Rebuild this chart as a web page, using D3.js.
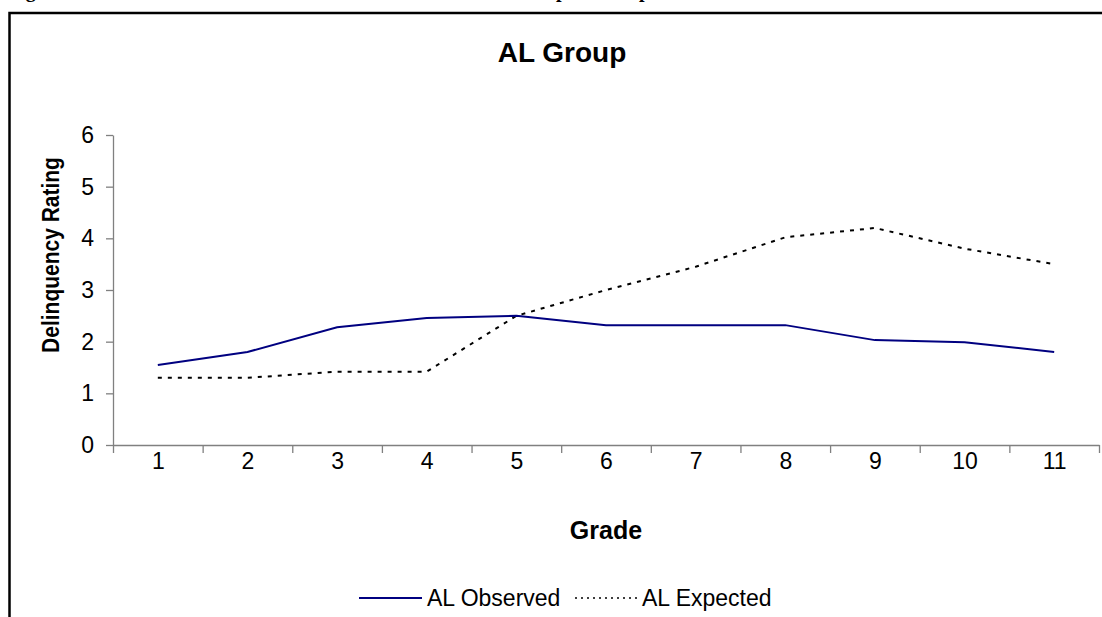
<!DOCTYPE html>
<html>
<head>
<meta charset="utf-8">
<script src="https://cdn.jsdelivr.net/npm/d3@7"></script>
<style>
  body { margin: 0; background: #fff; }
  svg { display: block; font-family: Arial, "Liberation Sans", sans-serif; }
  .axis path, .axis line { stroke: #808080; }
  .axis text { fill: #000; font-size: 23px; font-family: Arial, "Liberation Sans", sans-serif; }
</style>
</head>
<body>
<div id="chart"></div>
<script>
var grades = [1, 2, 3, 4, 5, 6, 7, 8, 9, 10, 11];
var observed = [1.55, 1.8, 2.28, 2.46, 2.5, 2.32, 2.32, 2.32, 2.03, 1.99, 1.8];
var expected = [1.3, 1.3, 1.42, 1.42, 2.5, 3.0, 3.45, 4.02, 4.2, 3.8, 3.5];
var yTicks = [0, 1, 2, 3, 4, 5, 6];
var seriesNames = ["AL Observed", "AL Expected"];

var W = 1102, H = 617;
var plot = {left: 113, right: 1099, top: 135, bottom: 445};

var svg = d3.select("#chart").append("svg")
  .attr("width", W).attr("height", H);

svg.append("rect").attr("width", W).attr("height", H).attr("fill", "#fff");

// page caption, cut off by the top of the picture (only descenders show)
var capY = -3;
var capFont = "'Liberation Serif', 'Times New Roman', serif";
svg.append("text")
  .attr("x", 8).attr("y", capY)
  .style("font-family", capFont)
  .style("font-weight", "bold").style("font-size", "20px")
  .text("Figure 4:");
svg.append("text")
  .attr("x", 567).attr("y", capY)
  .attr("text-anchor", "end")
  .style("font-family", capFont)
  .style("font-weight", "bold").style("font-size", "20px")
  .text("Observed and Estimated Means for the AL Group");
svg.append("text")
  .attr("x", 598).attr("y", capY)
  .style("font-family", capFont)
  .style("font-weight", "bold").style("font-size", "20px")
  .text("Compared");

// frame
svg.append("path")
  .attr("d", "M9.5," + H + "V13H" + W)
  .attr("fill", "none").attr("stroke", "#000").attr("stroke-width", 2.5);

var x = d3.scaleLinear().domain([0.5, 11.5]).range([plot.left, plot.right]);
var y = d3.scaleLinear().domain([0, 6]).range([plot.bottom, plot.top]);

// x tick marks at category boundaries
var xEdges = d3.range(0.5, 12, 1);
svg.append("g")
  .attr("class", "axis")
  .attr("transform", "translate(0," + plot.bottom + ")")
  .call(d3.axisBottom(x).tickValues(xEdges).tickSize(8).tickSizeOuter(0).tickFormat(""));

// x labels
svg.append("g")
  .attr("class", "axis")
  .attr("transform", "translate(0," + plot.bottom + ")")
  .call(d3.axisBottom(x).tickValues(grades).tickSize(0).tickPadding(8).tickFormat(d3.format("d")))
  .call(function(g){ g.select(".domain").remove() });

svg.append("g")
  .attr("class", "axis")
  .attr("transform", "translate(" + plot.left + ",0)")
  .call(d3.axisLeft(y).tickValues(yTicks).tickSize(7).tickSizeOuter(0).tickPadding(12).tickFormat(d3.format("d")));

svg.selectAll(".axis line, .axis path").attr("stroke-width", 1.3);

var line = d3.line()
  .x(function(d, i){ return x(grades[i]) })
  .y(function(d){ return y(d) });

svg.append("path")
  .datum(expected)
  .attr("d", line)
  .attr("fill", "none")
  .attr("stroke", "#000")
  .attr("stroke-width", 2)
  .attr("stroke-dasharray", "4,6");

svg.append("path")
  .datum(observed)
  .attr("d", line)
  .attr("fill", "none")
  .attr("stroke", "#000080")
  .attr("stroke-width", 2);

// titles
svg.append("text")
  .attr("x", 562).attr("y", 62)
  .attr("text-anchor", "middle")
  .style("font-weight", "bold").style("font-size", "28px")
  .text("AL Group");

svg.append("text")
  .attr("x", (plot.left + plot.right) / 2).attr("y", 539)
  .attr("text-anchor", "middle")
  .style("font-weight", "bold").style("font-size", "25px")
  .text("Grade");

svg.append("text")
  .attr("transform", "translate(59,255) scale(1.15,1) rotate(-90)")
  .attr("text-anchor", "middle")
  .style("font-weight", "bold").style("font-size", "21px")
  .text("Delinquency Rating");

// legend
var legend = svg.append("g");
var legendItems = [
  {name: seriesNames[0], x1: 359, x2: 422, color: "#000080", dash: null, w: 2},
  {name: seriesNames[1], x1: 575, x2: 637, color: "#000", dash: "2,4", w: 1.3}
];
legend.selectAll("line").data(legendItems).enter().append("line")
  .attr("x1", function(d){ return d.x1 }).attr("x2", function(d){ return d.x2 })
  .attr("y1", 598).attr("y2", 598)
  .attr("stroke", function(d){ return d.color })
  .attr("stroke-width", function(d){ return d.w })
  .attr("stroke-dasharray", function(d){ return d.dash });
legend.selectAll("text").data(legendItems).enter().append("text")
  .attr("x", function(d){ return d.x2 + 5 }).attr("y", 606)
  .style("font-size", "23px")
  .text(function(d){ return d.name });
</script>
</body>
</html>
